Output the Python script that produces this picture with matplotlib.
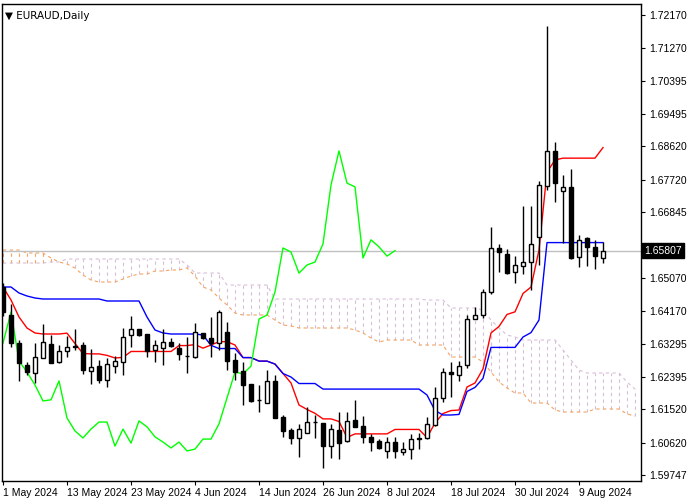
import matplotlib
matplotlib.use("Agg")
import matplotlib.pyplot as plt
import numpy as np
import pandas as pd

plt.rcParams["font.family"] = ["Liberation Sans", "DejaVu Sans"]

# daily OHLC, EURAUD
opens = [1.6483, 1.6407, 1.6331, 1.6272, 1.6250, 1.6291, 1.6329, 1.6280, 1.6310, 1.6323,
         1.6326, 1.6256, 1.6269, 1.6232, 1.6269, 1.6280, 1.6353, 1.6369, 1.6356, 1.6312,
         1.6318, 1.6334, 1.6318, 1.6296, 1.6294, 1.6358, 1.6345, 1.6331, 1.6361, 1.6286,
         1.6256, 1.6221, 1.6178, 1.6169, 1.6229, 1.6132, 1.6097, 1.6075, 1.6088, 1.6118,
         1.6115, 1.6053, 1.6097, 1.6067, 1.6124, 1.6107, 1.6078, 1.6067, 1.6040, 1.6064,
         1.6038, 1.6045, 1.6075, 1.6075, 1.6110, 1.6183, 1.6253, 1.6245, 1.6272, 1.6396,
         1.6407, 1.6469, 1.6588, 1.6572, 1.6523, 1.6539, 1.6550, 1.6618, 1.6755, 1.6850,
         1.6742, 1.6753, 1.6564, 1.6615, 1.6591, 1.6561]
highs = [1.6493, 1.6437, 1.6340, 1.6280, 1.6331, 1.6383, 1.6353, 1.6326, 1.6350, 1.6369,
         1.6334, 1.6315, 1.6286, 1.6291, 1.6296, 1.6372, 1.6404, 1.6369, 1.6356, 1.6340,
         1.6369, 1.6345, 1.6331, 1.6348, 1.6385, 1.6358, 1.6402, 1.6420, 1.6388, 1.6304,
         1.6280, 1.6221, 1.6218, 1.6259, 1.6245, 1.6137, 1.6102, 1.6113, 1.6159, 1.6137,
         1.6115, 1.6113, 1.6145, 1.6145, 1.6178, 1.6134, 1.6086, 1.6072, 1.6078, 1.6078,
         1.6064, 1.6086, 1.6088, 1.6132, 1.6213, 1.6264, 1.6280, 1.6283, 1.6407, 1.6429,
         1.6478, 1.6645, 1.6599, 1.6585, 1.6566, 1.6701, 1.6701, 1.6769, 1.7187, 1.6874,
         1.6785, 1.6801, 1.6623, 1.6618, 1.6610, 1.6604]
lows = [1.6404, 1.6321, 1.6229, 1.6245, 1.6223, 1.6291, 1.6277, 1.6277, 1.6294, 1.6312,
        1.6248, 1.6221, 1.6223, 1.6213, 1.6250, 1.6245, 1.6321, 1.6350, 1.6294, 1.6280,
        1.6272, 1.6321, 1.6286, 1.6250, 1.6291, 1.6343, 1.6294, 1.6312, 1.6259, 1.6232,
        1.6164, 1.6172, 1.6145, 1.6169, 1.6129, 1.6078, 1.6059, 1.6024, 1.6088, 1.6075,
        1.5994, 1.6021, 1.6018, 1.6064, 1.6105, 1.6061, 1.6040, 1.6045, 1.6021, 1.6021,
        1.6029, 1.6018, 1.6045, 1.6072, 1.6107, 1.6172, 1.6186, 1.6229, 1.6264, 1.6396,
        1.6399, 1.6464, 1.6523, 1.6518, 1.6493, 1.6518, 1.6474, 1.6542, 1.6745, 1.6712,
        1.6601, 1.6558, 1.6537, 1.6539, 1.6531, 1.6548]
closes = [1.6415, 1.6331, 1.6277, 1.6253, 1.6294, 1.6334, 1.6277, 1.6310, 1.6321, 1.6321,
          1.6259, 1.6267, 1.6232, 1.6275, 1.6283, 1.6348, 1.6369, 1.6353, 1.6310, 1.6326,
          1.6334, 1.6323, 1.6302, 1.6296, 1.6361, 1.6345, 1.6331, 1.6415, 1.6283, 1.6253,
          1.6218, 1.6175, 1.6178, 1.6229, 1.6129, 1.6094, 1.6075, 1.6099, 1.6118, 1.6118,
          1.6053, 1.6099, 1.6061, 1.6121, 1.6105, 1.6078, 1.6064, 1.6048, 1.6064, 1.6040,
          1.6045, 1.6072, 1.6072, 1.6113, 1.6183, 1.6253, 1.6248, 1.6269, 1.6396, 1.6407,
          1.6469, 1.6588, 1.6577, 1.6520, 1.6542, 1.6550, 1.6599, 1.6758, 1.6850, 1.6763,
          1.6753, 1.6561, 1.6610, 1.6591, 1.6566, 1.65807]

# indicator values from before the visible history
tenkan_start = [1.64826, 1.64475, 1.64016, 1.63719, 1.63584, 1.63557, 1.63557, 1.63557]
kijun_start = [1.64826, 1.64826, 1.64664, 1.64583, 1.64529, 1.64502, 1.64502, 1.64502,
               1.64502, 1.64502, 1.64502, 1.64502, 1.64502, 1.64448, 1.64448, 1.64448,
               1.64448, 1.64448, 1.64016, 1.63665, 1.63584, 1.63557, 1.63557, 1.63557,
               1.63557]
span_a = [1.65825, 1.65825, 1.65825, 1.65744, 1.65744, 1.65744, 1.65609, 1.65501, 1.65447, 1.65339,
          1.65150, 1.65015, 1.64961, 1.64961, 1.64961, 1.65042, 1.65123, 1.65177, 1.65177, 1.65258,
          1.65258, 1.65285, 1.65285, 1.65339, 1.65123, 1.64826, 1.64745, 1.64529, 1.64340, 1.64124,
          1.64070, 1.64070, 1.64070, 1.64070, 1.63935, 1.63800, 1.63773, 1.63719, 1.63719, 1.63719,
          1.63719, 1.63719, 1.63719, 1.63719, 1.63665, 1.63584, 1.63449, 1.63341, 1.63395, 1.63395,
          1.63395, 1.63395, 1.63260, 1.63260, 1.63260, 1.63260, 1.62936, 1.62936, 1.62936, 1.62936,
          1.62801, 1.62531, 1.62261, 1.62099, 1.61964, 1.61964, 1.61694, 1.61694, 1.61694, 1.61505,
          1.61451, 1.61451, 1.61451, 1.61451, 1.61532, 1.61532, 1.61532, 1.61532, 1.61397, 1.61343]
span_b = [1.65474, 1.65474, 1.65474, 1.65474, 1.65474, 1.65474, 1.65501, 1.65501, 1.65582, 1.65582,
          1.65582, 1.65582, 1.65582, 1.65582, 1.65582, 1.65582, 1.65582, 1.65582, 1.65582, 1.65582,
          1.65582, 1.65582, 1.65582, 1.65420, 1.65204, 1.65204, 1.65204, 1.65204, 1.64880, 1.64880,
          1.64880, 1.64880, 1.64880, 1.64880, 1.64502, 1.64502, 1.64502, 1.64502, 1.64502, 1.64502,
          1.64502, 1.64502, 1.64502, 1.64502, 1.64502, 1.64502, 1.64502, 1.64502, 1.64502, 1.64502,
          1.64502, 1.64502, 1.64502, 1.64475, 1.64475, 1.64475, 1.64259, 1.64259, 1.64259, 1.64259,
          1.64205, 1.63935, 1.63719, 1.63530, 1.63476, 1.63395, 1.63395, 1.63395, 1.63395, 1.63395,
          1.63125, 1.62855, 1.62585, 1.62504, 1.62504, 1.62504, 1.62504, 1.62504, 1.62261, 1.62072]

price_ticks = [1.72170, 1.71270, 1.70395, 1.69495, 1.68620, 1.67720, 1.66845,
               1.65945, 1.65070, 1.64170, 1.63295, 1.62395, 1.61520, 1.60620, 1.59747]

o, h, l, c = map(np.array, (opens, highs, lows, closes))
n = len(c)
dates = pd.bdate_range("2024-05-01", periods=n)
idx = np.arange(n)


def midrange(period, start):
    out = list(start)
    for i in range(len(start), n):
        out.append((h[i - period + 1:i + 1].max() + l[i - period + 1:i + 1].min()) / 2)
    return np.array(out)


tenkan = midrange(9, tenkan_start)
kijun = midrange(26, kijun_start)
chikou = c[26:]

fig = plt.figure(figsize=(7, 5), dpi=100)
ax = fig.add_axes([2 / 700, 19 / 500, 639 / 700, 477 / 500])

# cloud: dashed vertical hatching between the two spans
sa, sb = np.array(span_a), np.array(span_b)
cidx = np.arange(len(sa))
for i in cidx:
    col = "#F4A460" if sa[i] > sb[i] else "#D8BFD8"
    ax.vlines(i, min(sa[i], sb[i]), max(sa[i], sb[i]), colors=col,
              linestyles=(0, (3, 3)), linewidth=0.8)
ax.plot(cidx, sa, color="#F4A460", linestyle=(0, (3, 3)), linewidth=0.8)
ax.plot(cidx, sb, color="#D8BFD8", linestyle=(0, (3, 3)), linewidth=0.8)

ax.axhline(c[-1], color="#C0C0C0", linewidth=1)

ax.plot(idx, tenkan, color="red", linewidth=1)
ax.plot(idx, kijun, color="blue", linewidth=1)
ax.plot(idx[:len(chikou)], chikou, color="lime", linewidth=1)

# candles
for i in idx:
    ax.vlines(i, l[i], h[i], color="black", linewidth=1)
    bottom, top = min(o[i], c[i]), max(o[i], c[i])
    fill = "black" if c[i] < o[i] else "white"
    if top - bottom < 0.00005:
        ax.hlines(c[i], i - 0.28, i + 0.28, color="black", linewidth=1)
    else:
        ax.add_patch(plt.Rectangle((i - 0.28, bottom), 0.56, top - bottom,
                                   facecolor=fill, edgecolor="black", linewidth=1, zorder=3))

ax.set_xlim(-0.125, 79.75)
ax.set_ylim(1.59588, 1.72467)

ax.yaxis.tick_right()
ax.set_yticks(price_ticks)
ax.set_yticklabels([f"{v:.5f}" if abs(v - 1.65945) > 1e-6 else "" for v in price_ticks],
                   fontsize=7.5)
ax.tick_params(axis="y", length=3, pad=3)

xt = list(range(0, n, 8))
ax.set_xticks(xt)
ax.set_xticklabels([f"{dates[i].day} {dates[i]:%b %Y}" for i in xt], fontsize=7.5, ha="left")
ax.tick_params(axis="x", length=3, pad=2)

for s in ax.spines.values():
    s.set_linewidth(1)

ax.text(0.005, 0.985, "\u25bc EURAUD,Daily", transform=ax.transAxes, fontsize=7.5,
        va="top", ha="left", family=["DejaVu Sans"])
ax.text(1.005, c[-1], "1.65807", transform=ax.get_yaxis_transform(), fontsize=7.5,
        color="white", va="center", ha="left", zorder=10,
        bbox=dict(boxstyle="square,pad=0.25", facecolor="black", edgecolor="black"))

fig.savefig("out.png", dpi=100)
